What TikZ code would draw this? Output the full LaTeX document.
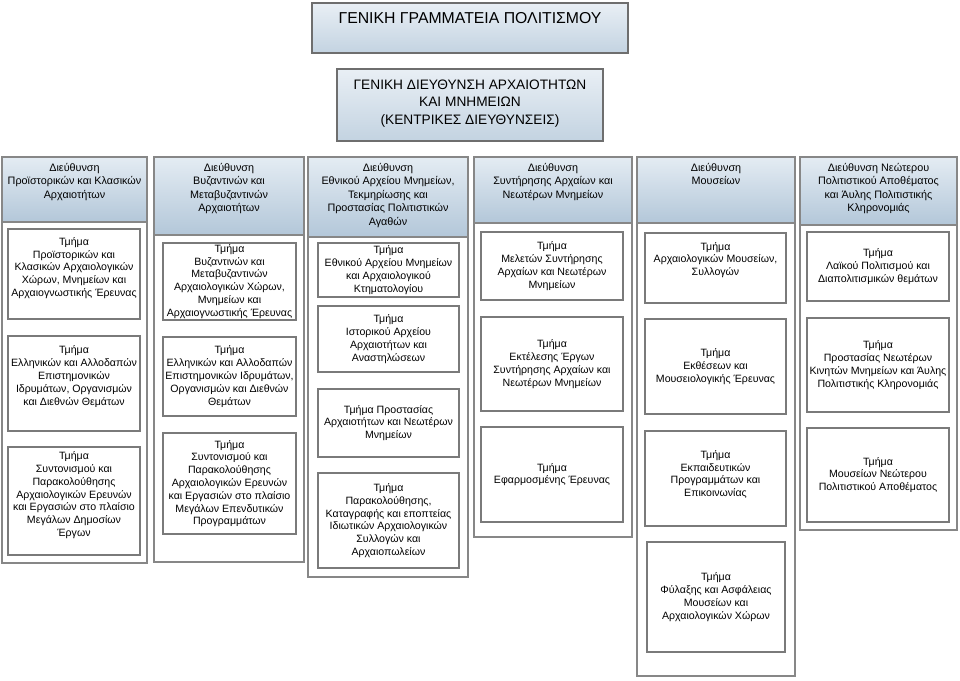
\documentclass[tikz,border=0pt]{standalone}
\usepackage{fontspec}
\setmainfont{Liberation Sans}
\usetikzlibrary{shadows}
\definecolor{hdrtop}{HTML}{E4ECF3}
\definecolor{hdrbot}{HTML}{B3C7D9}
\definecolor{toptop}{HTML}{E9EFF5}
\definecolor{topbot}{HTML}{C3D3E1}
\definecolor{outline}{HTML}{878787}
\definecolor{inline}{HTML}{7A7A7A}
\definecolor{topline}{HTML}{6E6E6E}
\tikzset{
  colbox/.style={draw=outline, line width=1.2pt, fill=white, inner sep=0pt},
  hdrbox/.style={draw=outline, line width=1.1pt, top color=hdrtop, bottom color=hdrbot, inner sep=0pt},
  hdrtxt/.style={align=center, inner sep=0pt, font=\fontsize{10.8}{13.5}\selectfont},
  inbox/.style={draw=inline, line width=1.1pt, fill=white, inner sep=0pt, align=center, font=\fontsize{10.6}{12.8}\selectfont},
  topbox/.style={draw=topline, line width=2.2pt, top color=toptop, bottom color=topbot, inner sep=0pt,
     drop shadow={shadow xshift=1.2pt, shadow yshift=-1.2pt, fill=gray!70}},
  toptxt/.style={align=center, inner sep=0pt},
}
% \bx[opts]{name}{x1}{y1}{x2}{y2}{text}
\newcommand{\bx}[7][]{\node[inbox,minimum width={(#5-#3)*1pt},minimum height={(#6-#4)*1pt},#1] (#2) at ({(#3+#5)/2},{(#4+#6)/2}) {#7};}
% \colb{name}{x1}{y1}{x2}{y2}{hdrbottom}{hdrtext}
\newcommand{\colb}[7]{%
  \node[colbox,minimum width={(#4-#2)*1pt},minimum height={(#5-#3)*1pt}] (#1) at ({(#2+#4)/2},{(#3+#5)/2}) {};
  \node[hdrbox,minimum width={(#4-#2)*1pt},minimum height={(#6-#3)*1pt}] (#1h) at ({(#2+#4)/2},{(#3+#6)/2}) {};
  \node[hdrtxt,anchor=north] (#1t) at ({(#2+#4)/2},{#3+6}) {#7};}
\begin{document}
\begin{tikzpicture}[x=1pt,y=-1pt]
\useasboundingbox (0,0) rectangle (960,680);

% top boxes
\node[topbox,minimum width=316pt,minimum height=50pt] (gg) at (470,28) {};
\node[toptxt,anchor=north,font=\fontsize{15.8}{18}\selectfont] (ggt) at (470,12) {ΓΕΝΙΚΗ ΓΡΑΜΜΑΤΕΙΑ ΠΟΛΙΤΙΣΜΟΥ};
\node[topbox,minimum width=266pt,minimum height=72pt,font=\fontsize{13.7}{17.5}\selectfont,align=center] (gd) at (470,105)
  {ΓΕΝΙΚΗ ΔΙΕΥΘΥΝΣΗ ΑΡΧΑΙΟΤΗΤΩΝ\\ ΚΑΙ ΜΝΗΜΕΙΩΝ\\ (ΚΕΝΤΡΙΚΕΣ ΔΙΕΥΘΥΝΣΕΙΣ)\rule[-6pt]{0pt}{1pt}};

% columns
\colb{c1}{2}{157}{147}{563}{222}{Διεύθυνση\\ Προϊστορικών και Κλασικών\\ Αρχαιοτήτων}
\colb{c2}{154}{157}{304}{562}{235}{Διεύθυνση\\ Βυζαντινών και\\ Μεταβυζαντινών\\ Αρχαιοτήτων}
\colb{c3}{308}{157}{468}{577}{237}{Διεύθυνση\\ Εθνικού Αρχείου Μνημείων,\\ Τεκμηρίωσης και\\ Προστασίας Πολιτιστικών\\ Αγαθών}
\colb{c4}{474}{157}{632}{537}{223}{Διεύθυνση\\ Συντήρησης Αρχαίων και\\ Νεωτέρων Μνημείων}
\colb{c5}{637}{157}{795}{676}{223}{Διεύθυνση\\ Μουσείων}
\colb{c6}{800}{157}{957}{530}{225}{Διεύθυνση Νεώτερου\\ Πολιτιστικού Αποθέματος\\ και Άυλης Πολιτιστικής\\ Κληρονομιάς}

% column 1
\bx[text depth=14pt]{c1a}{8}{229}{140}{319}{Τμήμα\\ Προϊστορικών και\\ Κλασικών Αρχαιολογικών\\ Χώρων, Μνημείων και\\ Αρχαιογνωστικής Έρευνας}
\bx[text depth=16pt]{c1b}{8}{336}{140}{431}{Τμήμα\\ Ελληνικών και Αλλοδαπών\\ Επιστημονικών\\ Ιδρυμάτων, Οργανισμών\\ και Διεθνών Θεμάτων}
\bx[text depth=14pt]{c1c}{8}{447}{140}{555}{Τμήμα\\ Συντονισμού και\\ Παρακολούθησης\\ Αρχαιολογικών Ερευνών\\ και Εργασιών στο πλαίσιο\\ Μεγάλων Δημοσίων\\ Έργων}

% column 2
\bx{c2a}{163}{243}{296}{320}{Τμήμα\\ Βυζαντινών και\\ Μεταβυζαντινών\\ Αρχαιολογικών Χώρων,\\ Μνημείων και\\ Αρχαιογνωστικής Έρευνας}
\bx{c2b}{163}{337}{296}{416}{Τμήμα\\ Ελληνικών και Αλλοδαπών\\ Επιστημονικών Ιδρυμάτων,\\ Οργανισμών και Διεθνών\\ Θεμάτων}
\bx{c2c}{163}{433}{296}{534}{Τμήμα\\ Συντονισμού και\\ Παρακολούθησης\\ Αρχαιολογικών Ερευνών\\ και Εργασιών στο πλαίσιο\\ Μεγάλων Επενδυτικών\\ Προγραμμάτων}

% column 3
\bx{c3a}{318}{243}{459}{297}{Τμήμα\\ Εθνικού Αρχείου Μνημείων\\ και Αρχαιολογικού\\ Κτηματολογίου}
\bx{c3b}{318}{306}{459}{372}{Τμήμα\\ Ιστορικού Αρχείου\\ Αρχαιοτήτων και\\ Αναστηλώσεων}
\bx{c3c}{318}{389}{459}{457}{Τμήμα Προστασίας\\ Αρχαιοτήτων και Νεωτέρων\\ Μνημείων}
\bx{c3d}{318}{473}{459}{568}{Τμήμα\\ Παρακολούθησης,\\ Καταγραφής και εποπτείας\\ Ιδιωτικών Αρχαιολογικών\\ Συλλογών και\\ Αρχαιοπωλείων}

% column 4
\bx{c4a}{481}{232}{623}{300}{Τμήμα\\ Μελετών Συντήρησης\\ Αρχαίων και Νεωτέρων\\ Μνημείων}
\bx{c4b}{481}{317}{623}{411}{Τμήμα\\ Εκτέλεσης Έργων\\ Συντήρησης Αρχαίων και\\ Νεωτέρων Μνημείων}
\bx{c4c}{481}{427}{623}{522}{Τμήμα\\ Εφαρμοσμένης Έρευνας}

% column 5
\bx[text depth=18pt]{c5a}{645}{233}{786}{303}{Τμήμα\\ Αρχαιολογικών Μουσείων,\\ Συλλογών}
\bx{c5b}{645}{319}{786}{414}{Τμήμα\\ Εκθέσεων και\\ Μουσειολογικής Έρευνας}
\bx[text depth=10pt]{c5c}{645}{431}{786}{526}{Τμήμα\\ Εκπαιδευτικών\\ Προγραμμάτων και\\ Επικοινωνίας}
\bx{c5d}{647}{542}{785}{652}{Τμήμα\\ Φύλαξης και Ασφάλειας\\ Μουσείων και\\ Αρχαιολογικών Χώρων}

% column 6
\bx{c6a}{807}{232}{949}{301}{Τμήμα\\ Λαϊκού Πολιτισμού και\\ Διαπολιτισμικών θεμάτων}
\bx{c6b}{807}{318}{949}{412}{Τμήμα\\ Προστασίας Νεωτέρων\\ Κινητών Μνημείων και Άυλης\\ Πολιτιστικής Κληρονομιάς}
\bx{c6c}{807}{428}{949}{522}{Τμήμα\\ Μουσείων Νεώτερου\\ Πολιτιστικού Αποθέματος}
\end{tikzpicture}
\end{document}
